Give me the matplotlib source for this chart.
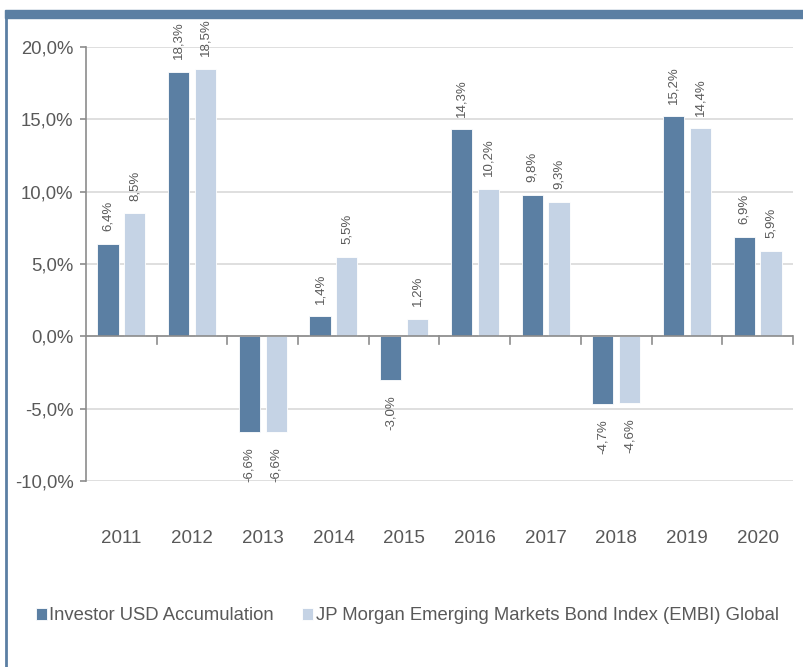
import matplotlib.pyplot as plt
import numpy as np
from matplotlib.patches import Rectangle
from matplotlib.lines import Line2D

# Datos
anios = ['2011', '2012', '2013', '2014', '2015', '2016', '2017', '2018', '2019', '2020']
fondo = [6.4, 18.3, -6.6, 1.4, -3.0, 14.3, 9.8, -4.7, 15.2, 6.9]
indice = [8.5, 18.5, -6.6, 5.5, 1.2, 10.2, 9.3, -4.6, 14.4, 5.9]
nombres = ['Investor USD Accumulation',
           'JP Morgan Emerging Markets Bond Index (EMBI) Global']

azul = '#5b7fa3'
celeste = '#c5d3e5'
gris = '#595959'

plt.rcParams['font.family'] = ['Liberation Sans', 'DejaVu Sans']

fig = plt.figure(figsize=(8.04, 6.67), dpi=100)
W, H = 804, 667

# Marco: banda superior y linea izquierda
fig.patches.append(Rectangle((5 / W, 1 - 18 / H), 1 - 5 / W, 8 / H,
                             transform=fig.transFigure, color=azul, zorder=0))
fig.lines.append(Line2D([6 / W, 6 / W], [0, 1 - 18 / H], transform=fig.transFigure,
                        color=azul, lw=2))

ax = fig.add_axes([86 / W, 1 - 481 / H, (793 - 86) / W, (481 - 47) / H])

x = np.arange(len(anios))
ancho = 0.3
sep = 0.04
b1 = ax.bar(x - ancho / 2 - sep, fondo, ancho, color=azul, label=nombres[0],
            edgecolor='white', linewidth=0.6, zorder=3)
b2 = ax.bar(x + ancho / 2 + sep, indice, ancho, color=celeste, label=nombres[1],
            edgecolor='white', linewidth=0.6, zorder=3)

for barras, valores in [(b1, fondo), (b2, indice)]:
    for b, v in zip(barras, valores):
        cx = b.get_x() + b.get_width() / 2
        txt = f'{v:.1f}%'.replace('.', ',')
        if v >= 0:
            ax.annotate(txt, (cx, v), xytext=(0, 9), textcoords='offset points',
                        rotation=90, ha='center', va='bottom', fontsize=9.5,
                        color=gris)
        else:
            ax.annotate(txt, (cx, v), xytext=(0, -11), textcoords='offset points',
                        rotation=90, ha='center', va='top', fontsize=9.5,
                        color=gris)

ax.set_xlim(-0.5, len(anios) - 0.5)
ax.set_ylim(-10, 20)
ax.set_yticks(np.arange(-10, 21, 5))
ax.set_yticklabels([f'{t:.1f}%'.replace('.', ',') for t in np.arange(-10, 21, 5)])
ax.yaxis.grid(True, color='#d9d9d9', lw=1.2, zorder=0)
ax.set_axisbelow(True)

for s in ['top', 'right', 'bottom']:
    ax.spines[s].set_visible(False)
ax.spines['left'].set_color('#8c8c8c')
ax.spines['left'].set_linewidth(1.2)
ax.tick_params(axis='y', colors='#8c8c8c', labelcolor=gris, labelsize=13.3,
               length=4, width=1.2, pad=5)

# Linea del cero con marcas entre categorias
ax.axhline(0, color='#8c8c8c', lw=1.2, zorder=4)
for k in range(1, len(anios) + 1):
    ax.plot([k - 0.5, k - 0.5], [0, -0.5], color='#8c8c8c', lw=1.2, zorder=4,
            clip_on=False)

ax.set_xticks([])
for i, a in enumerate(anios):
    ax.text(i, -14.0, a, ha='center', va='center', fontsize=13.5, color=gris)

fig.legend(handles=[b1, b2], labels=nombres, loc='center left',
           bbox_to_anchor=(19 / W, 1 - 616 / H), ncol=2, frameon=False,
           fontsize=13.3, handlelength=0.6, handleheight=0.6,
           handletextpad=0.15, columnspacing=1.5, labelcolor=gris)

fig.savefig('out.png', dpi=100)
